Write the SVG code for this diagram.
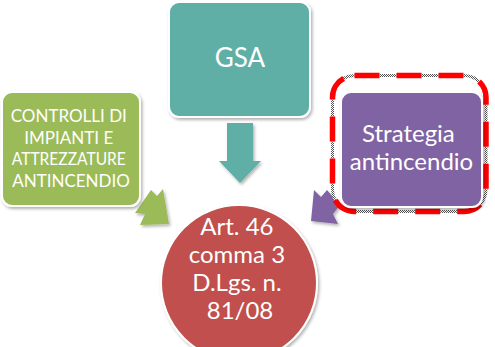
<svg xmlns="http://www.w3.org/2000/svg" width="495" height="347" viewBox="0 0 495 347">
  <defs>
    <filter id="sh" x="-20%" y="-20%" width="140%" height="140%">
      <feDropShadow dx="1.5" dy="2" stdDeviation="1.5" flood-color="#000" flood-opacity="0.3"/>
    </filter>
    <pattern id="checker" width="2" height="2" patternUnits="userSpaceOnUse">
      <rect width="2" height="2" fill="#fff"/>
      <rect width="1" height="1" fill="#555"/>
      <rect x="1" y="1" width="1" height="1" fill="#555"/>
    </pattern>
    <style>
      .box { stroke: #fff; stroke-width: 2; filter: url(#sh); }
      .txt { font-family: Lato, "Open Sans", "Liberation Sans", sans-serif; fill: #fff; text-anchor: middle; }
    </style>
  </defs>
  <rect width="495" height="347" fill="#fff"/>

  <g id="connectors">
    <polygon points="227,123 253,123 253,161 261,161 240,183 219,161 227,161" fill="#5EAFA6" filter="url(#sh)"/>
    <polygon points="151,190 157,196 163,189 169,224 140,225 145,214 135,213" fill="#9BBB59" filter="url(#sh)"/>
    <polygon points="314,190 321,197 327,190 340,205 333,214 338,224 311,221" fill="#8064A2" filter="url(#sh)"/>
  </g>

  <g id="gsa">
    <rect class="box" x="169" y="2" width="141" height="115" rx="10" fill="#5EAFA6"/>
    <text class="txt" x="240" y="67" font-size="26">GSA</text>
  </g>

  <g id="controlli">
    <rect class="box" x="2" y="92" width="138" height="114" rx="10" fill="#9BBB59"/>
    <text class="txt" font-size="17">
      <tspan x="71" y="122">CONTROLLI DI</tspan>
      <tspan x="71" y="143.5">IMPIANTI E</tspan>
      <tspan x="71" y="165" textLength="114" lengthAdjust="spacingAndGlyphs">ATTREZZATURE</tspan>
      <tspan x="71" y="186.5">ANTINCENDIO</tspan>
    </text>
  </g>

  <g id="strategia">
    <path d="M354.5,75.5 H464 A22,22 0 0 1 486,97.5 V189.5 A22,22 0 0 1 464,211.5 H354.5 A22,22 0 0 1 332.5,189.5 V97.5 A22,22 0 0 1 354.5,75.5 Z" fill="none" stroke="url(#checker)" stroke-width="3" stroke-dasharray="0 25 17 0"/>
    <path d="M354.5,75.5 H464 A22,22 0 0 1 486,97.5 V189.5 A22,22 0 0 1 464,211.5 H354.5 A22,22 0 0 1 332.5,189.5 V97.5 A22,22 0 0 1 354.5,75.5 Z" fill="none" stroke="#FF0000" stroke-width="5.5" stroke-dasharray="25 17"/>
    <rect class="box" x="341" y="92" width="141" height="115" rx="10" fill="#8064A2"/>
    <text class="txt" font-size="24">
      <tspan x="411.5" y="142">Strategia</tspan>
      <tspan x="411.5" y="170">antincendio</tspan>
    </text>
  </g>

  <g id="art46">
    <circle class="box" cx="239" cy="283" r="78" fill="#C0504D"/>
    <text class="txt" font-size="24">
      <tspan x="240" y="235">Art. 46</tspan>
      <tspan x="240" y="263">comma 3</tspan>
      <tspan x="240" y="291">D.Lgs. n.</tspan>
      <tspan x="240" y="319">81/08</tspan>
    </text>
  </g>
</svg>
